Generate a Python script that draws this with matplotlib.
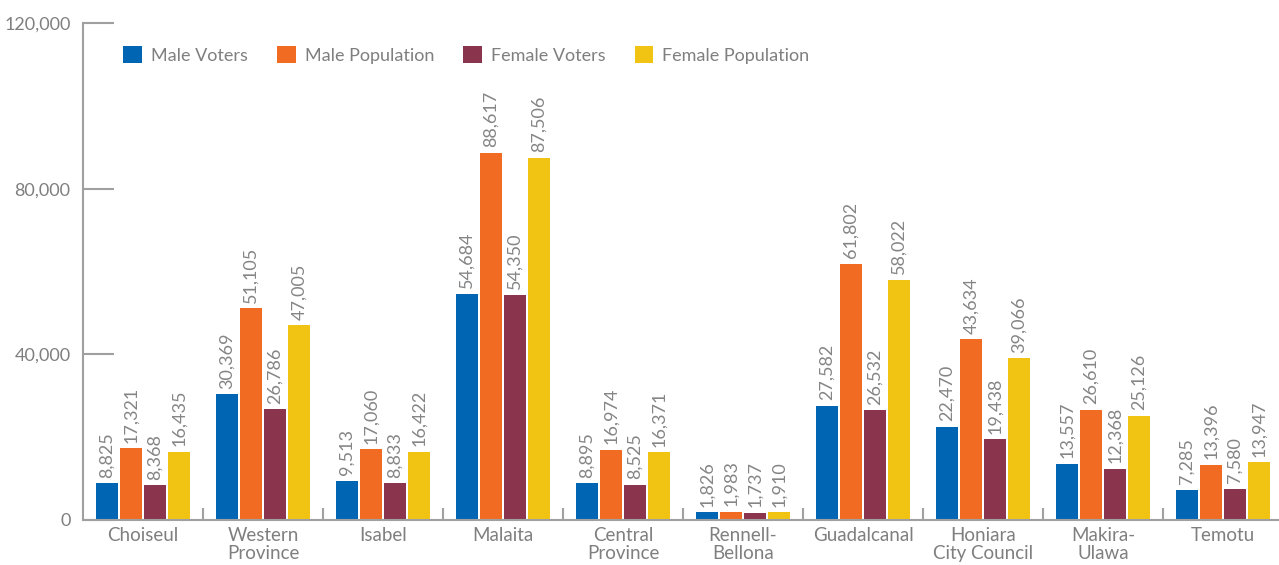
"""
Registered voters vs population by province, grouped bars.
"""

import matplotlib.pyplot as plt
import numpy as np
from matplotlib.patches import Patch

provinces = [
    "Choiseul", "Western\nProvince", "Isabel", "Malaita", "Central\nProvince",
    "Rennell-\nBellona", "Guadalcanal", "Honiara\nCity Council", "Makira-\nUlawa", "Temotu",
]
male_voters = [8825, 30369, 9513, 54684, 8895, 1826, 27582, 22470, 13557, 7285]
male_population = [17321, 51105, 17060, 88617, 16974, 1983, 61802, 43634, 26610, 13396]
female_voters = [8368, 26786, 8833, 54350, 8525, 1737, 26532, 19438, 12368, 7580]
female_population = [16435, 47005, 16422, 87506, 16371, 1910, 58022, 39066, 25126, 13947]

series_names = ["Male Voters", "Male Population", "Female Voters", "Female Population"]
colors = ["#0066b3", "#f26b22", "#8b344e", "#f1c414"]

plt.rcParams["font.family"] = ["Lato", "DejaVu Sans"]
text_gray = "#7f7f7f"
axis_gray = "#a0a0a0"


def make_chart():
    fig = plt.figure(figsize=(12.79, 5.65), dpi=100)
    ax = fig.add_axes([83 / 1279, 45 / 565, 1200 / 1279, 497 / 565])

    x = np.arange(len(provinces))
    width = 22 / 120
    step = 24 / 120
    all_series = [male_voters, male_population, female_voters, female_population]

    for i, (vals, color) in enumerate(zip(all_series, colors)):
        pos = x + (i - 1.5) * step
        ax.bar(pos, vals, width=width, color=color, zorder=2)
        for px, v in zip(pos, vals):
            ax.annotate(f"{v:,}", (px, v), xytext=(0, 4), textcoords="offset points",
                        rotation=90, ha="center", va="bottom", fontsize=13,
                        color="#858585")

    ax.set_xlim(-0.5, len(provinces) - 0.5)
    ax.set_ylim(0, 120000)

    # y axis: inward ticks
    ax.set_yticks([0, 40000, 80000, 120000])
    ax.set_yticklabels(["0", "40,000", "80,000", "120,000"])
    ax.tick_params(axis="y", direction="in", length=22, width=1.5, color=axis_gray,
                   labelsize=13, labelcolor=text_gray, pad=9)

    # x axis: labels without ticks, separators as minor ticks
    ax.set_xticks(x)
    ax.set_xticklabels(provinces, linespacing=1.1)
    ax.set_xticks(np.arange(0.5, len(provinces) - 1, 1.0), minor=True)
    ax.tick_params(axis="x", which="major", length=0, labelsize=13.5, labelcolor=text_gray, pad=5)
    ax.tick_params(axis="x", which="minor", direction="in", length=9, width=1.5, color=axis_gray)

    for side in ["top", "right"]:
        ax.spines[side].set_visible(False)
    for side in ["left", "bottom"]:
        ax.spines[side].set_color(axis_gray)
        ax.spines[side].set_linewidth(1.5)

    handles = [Patch(facecolor=c, edgecolor="none") for c in colors]
    leg = ax.legend(handles, series_names, loc="upper left", bbox_to_anchor=(40 / 1200, 1 - 23 / 497),
                    ncol=4, frameon=False, fontsize=13, handlelength=1.05, handleheight=1.05,
                    handletextpad=0.5, columnspacing=1.6, borderpad=0, borderaxespad=0)
    for t in leg.get_texts():
        t.set_color(text_gray)

    fig.savefig("out.png", dpi=100)


if __name__ == "__main__":
    make_chart()
